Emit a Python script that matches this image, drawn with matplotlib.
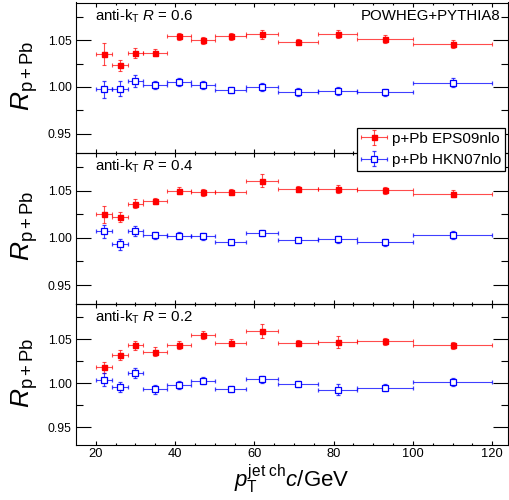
import numpy as np
import matplotlib.pyplot as plt
from matplotlib.container import ErrorbarContainer
from matplotlib.legend_handler import HandlerErrorbar

plt.rcParams['font.family'] = ['Liberation Sans', 'DejaVu Sans']
plt.rcParams['mathtext.fontset'] = 'custom'
plt.rcParams['mathtext.rm'] = 'Liberation Sans'
plt.rcParams['mathtext.it'] = 'Liberation Sans:italic'
plt.rcParams['mathtext.bf'] = 'Liberation Sans:bold'

# bins in pT (GeV/c)
bin_edges = [20, 24, 28, 32, 38, 44, 50, 58, 66, 76, 86, 100, 120]

# R = 0.6
eps_r06 = [1.035, 1.023, 1.036, 1.0365, 1.054, 1.0496, 1.054, 1.056, 1.048, 1.0564, 1.051, 1.046]
eps_r06_err = [0.012, 0.0057, 0.0055, 0.004, 0.004, 0.004, 0.004, 0.0045, 0.0036, 0.0043, 0.0043, 0.0045]
hkn_r06 = [0.9975, 0.998, 1.0067, 1.0025, 1.0053, 1.0025, 0.9968, 1.000, 0.9947, 0.9961, 0.9943, 1.0046]
hkn_r06_err = [0.009, 0.008, 0.0064, 0.0043, 0.0045, 0.0043, 0.0036, 0.0043, 0.0039, 0.0043, 0.0039, 0.0045]

# R = 0.4
eps_r04 = [1.025, 1.022, 1.036, 1.039, 1.0496, 1.048, 1.0486, 1.0606, 1.0518, 1.0518, 1.0504, 1.0468]
eps_r04_err = [0.009, 0.005, 0.005, 0.0036, 0.0036, 0.0036, 0.0032, 0.007, 0.0032, 0.0039, 0.0036, 0.0036]
hkn_r04 = [1.007, 0.993, 1.0074, 1.0025, 1.0021, 1.0014, 0.9951, 1.0049, 0.9972, 0.9986, 0.9954, 1.0028]
hkn_r04_err = [0.007, 0.0057, 0.005, 0.0036, 0.0036, 0.0032, 0.0029, 0.0032, 0.0029, 0.0036, 0.0036, 0.0039]

# R = 0.2
eps_r02 = [1.018, 1.0318, 1.0432, 1.036, 1.0432, 1.0553, 1.0462, 1.0595, 1.0455, 1.0466, 1.0477, 1.0432]
eps_r02_err = [0.0064, 0.0057, 0.005, 0.005, 0.0045, 0.0045, 0.0038, 0.0076, 0.0034, 0.0068, 0.0038, 0.0042]
hkn_r02 = [1.0042, 0.9958, 1.0117, 0.9932, 0.9981, 1.003, 0.9939, 1.0045, 0.9989, 0.9928, 0.9951, 1.0015]
hkn_r02_err = [0.0076, 0.006, 0.0053, 0.0053, 0.0042, 0.0038, 0.0034, 0.0038, 0.0034, 0.0064, 0.0042, 0.0045]

radii = ['0.6', '0.4', '0.2']
eps_vals = [eps_r06, eps_r04, eps_r02]
eps_errs = [eps_r06_err, eps_r04_err, eps_r02_err]
hkn_vals = [hkn_r06, hkn_r04, hkn_r02]
hkn_errs = [hkn_r06_err, hkn_r04_err, hkn_r02_err]

edges = np.array(bin_edges, dtype=float)
centers = (edges[:-1] + edges[1:]) / 2
halfw = (edges[1:] - edges[:-1]) / 2

W, H = 509, 500
fig = plt.figure(figsize=(W / 100, H / 100), dpi=100)

left_px, right_px = 76, 508
panels_px = [(2.5, 152.7), (152.7, 304.0), (304.0, 445.0)]

axes = []
for i, (top, bot) in enumerate(panels_px):
    ax = fig.add_axes([left_px / W, 1 - bot / H, (right_px - left_px) / W, (bot - top) / H])
    ax.set_facecolor('none')
    axes.append(ax)

    e1 = ax.errorbar(centers, eps_vals[i], xerr=halfw, yerr=eps_errs[i], fmt='s',
                     color='red', ecolor=(1, 0, 0, 0.7), ms=3.6, mec='red',
                     elinewidth=0.8, capsize=1.4, capthick=0.8)
    e2 = ax.errorbar(centers, hkn_vals[i], xerr=halfw, yerr=hkn_errs[i], fmt='s',
                     color='blue', ecolor=(0, 0, 1, 0.75), ms=4.0, mfc='white', mec='blue',
                     mew=0.9, elinewidth=0.8, capsize=1.4, capthick=0.8)

    ax.set_xlim(15, 124)
    ax.set_ylim(0.93, 1.09)
    ax.set_yticks([0.95, 1.00, 1.05])
    ax.set_yticks([0.975, 1.025, 1.075], minor=True)
    ax.set_yticklabels(['0.95', '1.00', '1.05'])
    ax.set_xticks([20, 40, 60, 80, 100, 120])
    ax.set_xticks(np.arange(20, 121, 5), minor=True)
    ax.tick_params(axis='y', which='major', direction='in', left=True, right=True,
                   length=10.6, width=0.8, labelsize=8.7, pad=3)
    ax.tick_params(axis='y', which='minor', direction='in', left=True, right=True,
                   length=4.8, width=0.8)
    ax.tick_params(axis='x', which='major', direction='in', top=True, bottom=True,
                   length=3.2, width=0.8, labelsize=9.3, pad=2.5)
    ax.tick_params(axis='x', which='minor', direction='in', top=True, bottom=True,
                   length=1.6, width=0.8)
    if i < 2:
        ax.tick_params(axis='x', labelbottom=False)
    for s in ax.spines.values():
        s.set_linewidth(0.8)

    # annotation
    fig.text(95 / W, 1 - (top + 17.9) / H, r'anti-k$_{\mathrm{T}}$ $R$ = ' + radii[i],
             fontsize=10.8, ha='left', va='baseline')
    fig.text(24.5 / W, 1 - ((top + bot) / 2 - 2) / H, r'$R_{\mathrm{p+Pb}}$',
             rotation=90, fontsize=19, ha='center', va='center')

    if i == 0:
        fig.text(500.7 / W, 1 - (top + 17.9) / H, 'POWHEG+PYTHIA8',
                 fontsize=10.8, ha='right', va='baseline')
        handles = [e1, e2]

fig.text(292 / W, 1 - 486.7 / H, r'$p_{\mathrm{T}}^{\mathrm{jet\ ch}}c/\mathrm{GeV}$',
         fontsize=16, ha='center', va='baseline')

leg = fig.legend(handles, ['p+Pb EPS09nlo', 'p+Pb HKN07nlo'],
                 loc='upper left', bbox_to_anchor=(356.7 / W, 1 - 127.7 / H),
                 fontsize=11, frameon=True, fancybox=False, edgecolor='black',
                 framealpha=1, borderaxespad=0, borderpad=0.25, handlelength=1.75,
                 handletextpad=0.3, labelspacing=0.5,
                 handler_map={ErrorbarContainer: HandlerErrorbar(xerr_size=0.85, yerr_size=0.5)})
leg.get_frame().set_linewidth(0.9)

fig.savefig('out.png', dpi=100)
